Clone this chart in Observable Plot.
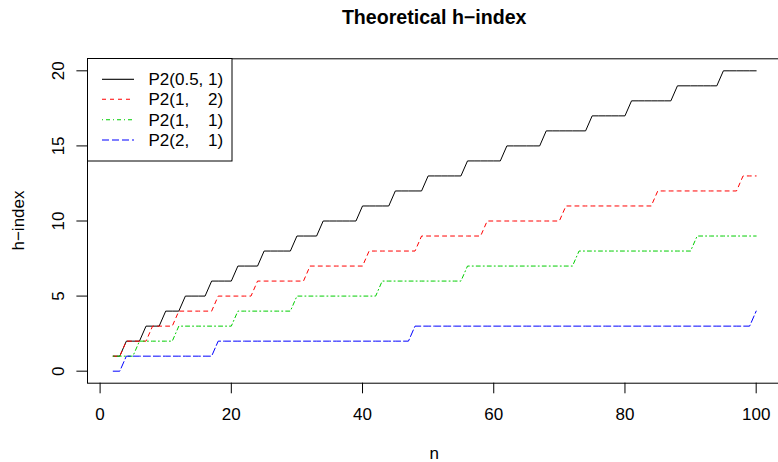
<!DOCTYPE html>
<html>
<head>
<meta charset="utf-8">
<script src="https://cdn.jsdelivr.net/npm/d3@7"></script>
<script src="https://cdn.jsdelivr.net/npm/@observablehq/plot@0.6"></script>
<style>
  html, body { margin: 0; padding: 0; background: white; overflow: hidden; }
  #chart { width: 778px; height: 462px; }
  svg text { white-space: pre; }
</style>
</head>
<body>
<div id="chart"></div>
<script>
// n = 2 .. 100
const nValues = d3.range(2, 101);

const seriesNames = ["P2(0.5, 1)", "P2(1,    2)", "P2(1,    1)", "P2(2,    1)"];
const seriesColors = ["#000000", "#FF0000", "#00CD00", "#0000FF"];
const seriesDashes = [null, "4,4", "1,3,4,3", "7,3"];

// theoretical h-index values, one per n (2..100), rows of 10
const hBlack = [
  1,1,2,2,2,3,3,3,4,4,
  4,5,5,5,5,6,6,6,6,7,
  7,7,7,8,8,8,8,8,9,9,
  9,9,10,10,10,10,10,10,11,11,
  11,11,11,12,12,12,12,12,13,13,
  13,13,13,13,14,14,14,14,14,14,
  15,15,15,15,15,15,16,16,16,16,
  16,16,16,17,17,17,17,17,17,18,
  18,18,18,18,18,18,19,19,19,19,
  19,19,19,20,20,20,20,20,20
];
const hRed = [
  1,1,2,2,2,2,3,3,3,3,
  4,4,4,4,4,4,5,5,5,5,
  5,5,6,6,6,6,6,6,6,6,
  7,7,7,7,7,7,7,7,7,8,
  8,8,8,8,8,8,8,9,9,9,
  9,9,9,9,9,9,9,10,10,10,
  10,10,10,10,10,10,10,10,10,11,
  11,11,11,11,11,11,11,11,11,11,
  11,11,11,12,12,12,12,12,12,12,
  12,12,12,12,12,12,13,13,13
];
const hGreen = [
  1,1,1,1,2,2,2,2,2,2,
  3,3,3,3,3,3,3,3,3,4,
  4,4,4,4,4,4,4,4,5,5,
  5,5,5,5,5,5,5,5,5,5,
  5,6,6,6,6,6,6,6,6,6,
  6,6,6,6,7,7,7,7,7,7,
  7,7,7,7,7,7,7,7,7,7,
  7,8,8,8,8,8,8,8,8,8,
  8,8,8,8,8,8,8,8,8,9,
  9,9,9,9,9,9,9,9,9
];
const hBlue = [
  0,0,1,1,1,1,1,1,1,1,
  1,1,1,1,1,1,2,2,2,2,
  2,2,2,2,2,2,2,2,2,2,
  2,2,2,2,2,2,2,2,2,2,
  2,2,2,2,2,2,3,3,3,3,
  3,3,3,3,3,3,3,3,3,3,
  3,3,3,3,3,3,3,3,3,3,
  3,3,3,3,3,3,3,3,3,3,
  3,3,3,3,3,3,3,3,3,3,
  3,3,3,3,3,3,3,3,4
];
const hSeries = [hBlack, hRed, hGreen, hBlue];

const xTicks = [0, 20, 40, 60, 80, 100];
const yTicks = [0, 5, 10, 15, 20];

const titleText = "Theoretical h\u2212index";
const xLabel = "n";
const yLabel = "h\u2212index";

const tables = hSeries.map((h, i) => nValues.map((n, j) => ({n, h: h[j], series: seriesNames[i]})));

const FONT = "Liberation Sans, Arial, Helvetica, sans-serif";
const FS = 17;

const W = 778, H = 462;
const mL = 87, mT = 58.3, mB = 462 - 382.7, mR = 778 - 781.4;

const plot = Plot.plot({
  width: W,
  height: H,
  marginLeft: mL,
  marginRight: mR,
  marginTop: mT,
  marginBottom: mB,
  style: {fontFamily: FONT, fontSize: FS + "px", background: "white", color: "black", overflow: "hidden"},
  x: {domain: [-1.92, 103.92]},
  y: {domain: [-0.8, 20.8]},
  marks: [
    ...tables.map((t, i) => Plot.line(t, {
      x: "n", y: "h",
      stroke: seriesColors[i],
      strokeWidth: 1,
      strokeDasharray: seriesDashes[i] || undefined,
      curve: "linear"
    })),
    Plot.frame({stroke: "black", strokeWidth: 1}),
    Plot.axisX(xTicks, {tickSize: 10.6, tickPadding: 14, fontSize: FS, label: null, stroke: "black", strokeOpacity: 1}),
    Plot.axisY(yTicks, {tickSize: 10.6, tickPadding: 13.1, tickRotate: -90, fontSize: FS, label: null, stroke: "black", strokeOpacity: 1})
  ]
});

document.getElementById("chart").appendChild(plot);

const svg = d3.select(plot);
const cx = (mL + (W - mR)) / 2;

// title
svg.append("text")
  .attr("x", cx).attr("y", 23.5)
  .attr("text-anchor", "middle")
  .attr("font-family", FONT).attr("font-weight", "bold").attr("font-size", 19.6)
  .attr("fill", "black")
  .text(titleText);

// x label
svg.append("text")
  .attr("x", cx).attr("y", 459)
  .attr("text-anchor", "middle")
  .attr("font-family", FONT).attr("font-size", FS)
  .attr("fill", "black")
  .text(xLabel);

// y label
svg.append("text")
  .attr("transform", `translate(24,${(mT + (H - mB)) / 2}) rotate(-90)`)
  .attr("text-anchor", "middle")
  .attr("font-family", FONT).attr("font-size", FS)
  .attr("fill", "black")
  .text(yLabel);

// legend
const lg = svg.append("g");
lg.append("rect")
  .attr("x", 87.5).attr("y", 58.5).attr("width", 144.5).attr("height", 102.5)
  .attr("fill", "white").attr("stroke", "black").attr("stroke-width", 1);
const rowY = [79.3, 99.3, 119.8, 140];
seriesNames.forEach((name, i) => {
  lg.append("line")
    .attr("x1", 102).attr("x2", 134)
    .attr("y1", rowY[i]).attr("y2", rowY[i])
    .style("stroke", seriesColors[i]).style("stroke-width", 1.1)
    .style("stroke-dasharray", seriesDashes[i] || "none");
  lg.append("text")
    .attr("x", 148.5).attr("y", rowY[i] + 6)
    .attr("text-anchor", "start")
    .attr("font-family", FONT).attr("font-size", FS)
    .attr("fill", "black")
    .style("white-space", "pre")
    .text(name);
});
</script>
</body>
</html>
